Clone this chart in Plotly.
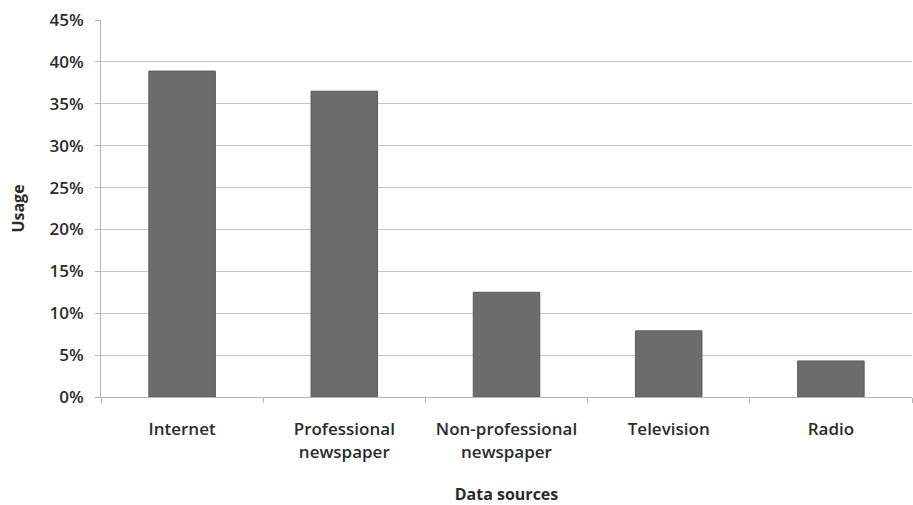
import plotly.graph_objects as go

categories = ["Internet", "Professional<br>newspaper", "Non-professional<br>newspaper", "Television", "Radio"]
usage = [0.389, 0.365, 0.125, 0.079, 0.043]
y_ticks = [0, 0.05, 0.10, 0.15, 0.20, 0.25, 0.30, 0.35, 0.40, 0.45]
y_tick_labels = ["0%", "5%", "10%", "15%", "20%", "25%", "30%", "35%", "40%", "45%"]

font_family = "'Open Sans', Lato, sans-serif"
text_color = "#2b2b2b"

fig = go.Figure(
    go.Bar(
        x=categories,
        y=usage,
        width=0.41,
        marker=dict(color="#6c6c6c", line=dict(color="#5a5a5a", width=1)),
    )
)

fig.update_layout(
    width=913,
    height=505,
    margin=dict(l=101, r=1, t=20, b=108),
    paper_bgcolor="white",
    plot_bgcolor="white",
    showlegend=False,
    font=dict(family=font_family, size=17, color=text_color),
)

fig.update_xaxes(
    showline=True,
    linecolor="#b5b5b5",
    linewidth=1,
    ticks="outside",
    tickson="boundaries",
    ticklen=5,
    tickcolor="#b5b5b5",
    showgrid=False,
    ticklabelstandoff=17,
    tickfont=dict(family=font_family, size=17, color=text_color, weight=600),
    title=dict(text="<b>Data sources</b>", font=dict(family=font_family, size=16, color=text_color), standoff=28),
)

fig.update_yaxes(
    range=[0, 0.45],
    tickvals=y_ticks,
    ticktext=y_tick_labels,
    showline=True,
    linecolor="#b5b5b5",
    linewidth=1,
    ticks="outside",
    ticklen=5,
    tickcolor="#b5b5b5",
    showgrid=True,
    gridcolor="#c4c4c4",
    gridwidth=1,
    zeroline=False,
    ticklabelstandoff=8,
    tickfont=dict(family=font_family, size=17, color=text_color, weight=600),
    title=dict(text="<b>Usage</b>", font=dict(family=font_family, size=16, color=text_color), standoff=20),
)

fig.write_html("out.html")
